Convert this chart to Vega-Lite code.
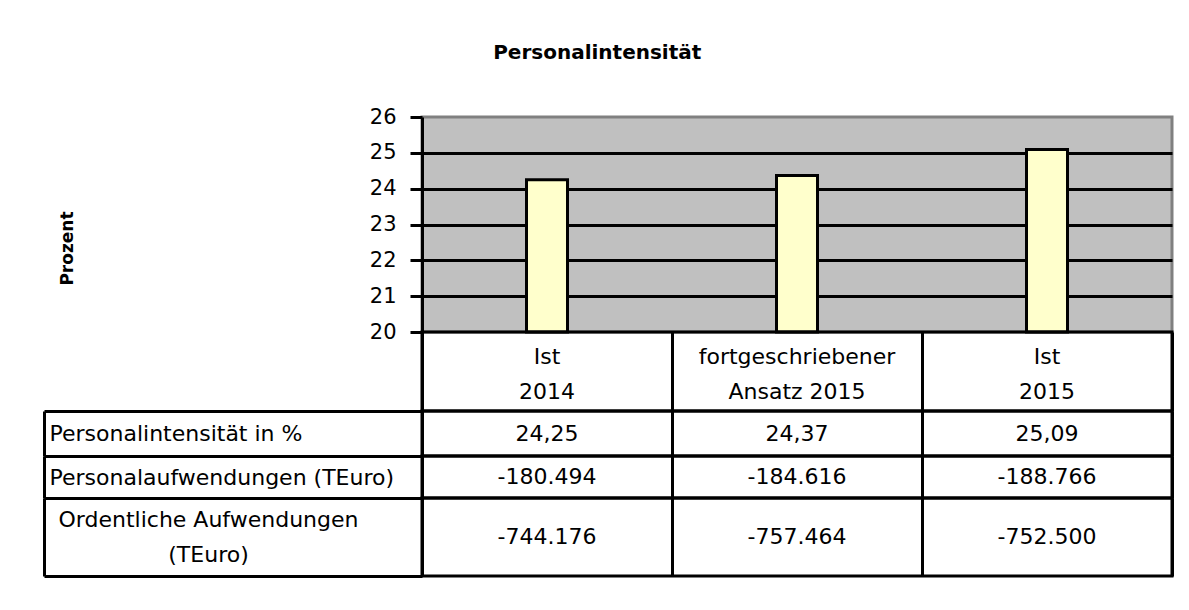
{
  "$schema": "https://vega.github.io/schema/vega-lite/v6.json",
  "background": "white",
  "padding": {"left": 41, "top": 42, "right": 5, "bottom": 5},
  "config": {
    "font": "DejaVu Sans",
    "locale": {"number": {"decimal": ",", "thousands": ".", "grouping": [3], "currency": ["", " €"], "minus": "-"}},
    "view": {"stroke": "black", "strokeWidth": 3},
    "axis": {"labelColor": "black", "titleColor": "black", "labelFont": "DejaVu Sans", "titleFont": "DejaVu Sans"}
  },
  "title": {"text": "Personalintensität", "fontSize": 20, "font": "DejaVu Sans", "fontWeight": "bold", "color": "black", "anchor": "middle", "offset": 42, "dx": -10},
  "data": {
    "values": [
      {"Kategorie": "Ist\n2014", "Personalintensität in %": 24.25, "Personalaufwendungen (TEuro)": -180494, "Ordentliche Aufwendungen (TEuro)": -744176},
      {"Kategorie": "fortgeschriebener\nAnsatz 2015", "Personalintensität in %": 24.37, "Personalaufwendungen (TEuro)": -184616, "Ordentliche Aufwendungen (TEuro)": -757464},
      {"Kategorie": "Ist\n2015", "Personalintensität in %": 25.09, "Personalaufwendungen (TEuro)": -188766, "Ordentliche Aufwendungen (TEuro)": -752500}
    ]
  },
  "spacing": 0,
  "bounds": "flush",
  "resolve": {"scale": {"x": "independent", "y": "independent"}},
  "vconcat": [
    {
      "width": 750,
      "height": 215,
      "view": {"fill": "#C0C0C0", "stroke": "#808080", "strokeWidth": 3},
      "mark": {"type": "bar", "fill": "#FFFFCC", "stroke": "black", "strokeWidth": 3, "width": {"band": 0.164}},
      "encoding": {
        "x": {
          "field": "Kategorie", "type": "nominal", "sort": null,
          "scale": {"type": "band", "paddingInner": 0, "paddingOuter": 0},
          "axis": null
        },
        "y": {
          "field": "Personalintensität in %", "type": "quantitative",
          "scale": {"domain": [20, 26], "nice": false, "zero": false},
          "axis": {
            "title": "Prozent", "values": [20, 21, 22, 23, 24, 25, 26],
            "grid": true, "gridWidth": 3,
            "gridColor": {"condition": {"test": "datum.value == 20 || datum.value == 26", "value": "transparent"}, "value": "black"},
            "domain": true, "domainColor": "black", "domainWidth": 3,
            "ticks": true, "tickSize": 12, "tickColor": "black", "tickWidth": 3,
            "labelFontSize": 21, "labelPadding": 14,
            "titleFontSize": 17, "titleFontWeight": "bold", "titleAngle": 270,
            "titleX": -355, "titleY": 131, "titleAlign": "center", "titleBaseline": "middle"
          }
        },
        "y2": {"datum": 20}
      }
    },
    {
      "width": 750,
      "height": 79,
      "mark": {"type": "text", "fontSize": 22, "color": "black", "baseline": "middle", "align": "center", "lineBreak": "\n", "lineHeight": 35, "dy": -15},
      "encoding": {
        "x": {
          "field": "Kategorie", "type": "nominal", "sort": null,
          "scale": {"type": "band", "paddingInner": 0, "paddingOuter": 0},
          "axis": {"title": null, "labels": false, "ticks": false, "domain": false, "grid": true, "tickBand": "extent", "gridColor": "black", "gridWidth": 3, "gridOpacity": 1}
        },
        "text": {"field": "Kategorie", "type": "nominal"}
      }
    },
    {
      "width": 750,
      "height": 45,
      "transform": [{"fold": ["Personalintensität in %"], "as": ["Zeile", "Wert"]}],
      "mark": {"type": "text", "fontSize": 22, "color": "black", "baseline": "middle", "align": "center"},
      "encoding": {
        "x": {
          "field": "Kategorie", "type": "nominal", "sort": null,
          "scale": {"type": "band", "paddingInner": 0, "paddingOuter": 0},
          "axis": {"title": null, "labels": false, "ticks": false, "domain": false, "grid": true, "tickBand": "extent", "gridColor": "black", "gridWidth": 3, "gridOpacity": 1}
        },
        "y": {
          "field": "Zeile", "type": "nominal",
          "scale": {"type": "band", "paddingInner": 0, "paddingOuter": 0},
          "axis": {
            "title": null, "offset": 378, "grid": false,
            "domain": true, "domainColor": "black", "domainWidth": 3,
            "ticks": true, "tickBand": "extent", "tickSize": -378, "tickColor": "black", "tickWidth": 3,
            "labelAlign": "left", "labelBaseline": "middle", "labelPadding": 373, "labelFontSize": 22, "labelLimit": 0
          }
        },
        "text": {"field": "Wert", "type": "quantitative", "format": ",.2f"}
      }
    },
    {
      "width": 750,
      "height": 42,
      "transform": [{"fold": ["Personalaufwendungen (TEuro)"], "as": ["Zeile", "Wert"]}],
      "mark": {"type": "text", "fontSize": 22, "color": "black", "baseline": "middle", "align": "center"},
      "encoding": {
        "x": {
          "field": "Kategorie", "type": "nominal", "sort": null,
          "scale": {"type": "band", "paddingInner": 0, "paddingOuter": 0},
          "axis": {"title": null, "labels": false, "ticks": false, "domain": false, "grid": true, "tickBand": "extent", "gridColor": "black", "gridWidth": 3, "gridOpacity": 1}
        },
        "y": {
          "field": "Zeile", "type": "nominal",
          "scale": {"type": "band", "paddingInner": 0, "paddingOuter": 0},
          "axis": {
            "title": null, "offset": 378, "grid": false,
            "domain": true, "domainColor": "black", "domainWidth": 3,
            "ticks": true, "tickBand": "extent", "tickSize": -378, "tickColor": "black", "tickWidth": 3,
            "labelAlign": "left", "labelBaseline": "middle", "labelPadding": 373, "labelFontSize": 22, "labelLimit": 0
          }
        },
        "text": {"field": "Wert", "type": "quantitative", "format": ",.0f"}
      }
    },
    {
      "width": 750,
      "height": 78,
      "transform": [{"fold": ["Ordentliche Aufwendungen (TEuro)"], "as": ["Zeile", "Wert"]}],
      "mark": {"type": "text", "fontSize": 22, "color": "black", "baseline": "middle", "align": "center"},
      "encoding": {
        "x": {
          "field": "Kategorie", "type": "nominal", "sort": null,
          "scale": {"type": "band", "paddingInner": 0, "paddingOuter": 0},
          "axis": {"title": null, "labels": false, "ticks": false, "domain": false, "grid": true, "tickBand": "extent", "gridColor": "black", "gridWidth": 3, "gridOpacity": 1}
        },
        "y": {
          "field": "Zeile", "type": "nominal",
          "scale": {"type": "band", "paddingInner": 0, "paddingOuter": 0},
          "axis": {
            "title": null, "offset": 378, "grid": false,
            "domain": true, "domainColor": "black", "domainWidth": 3,
            "ticks": true, "tickBand": "extent", "tickSize": -378, "tickColor": "black", "tickWidth": 3,
            "labelAlign": "center", "labelBaseline": "middle", "labelPadding": 214, "labelFontSize": 22, "labelLimit": 0, "labelLineHeight": 35, "labelOffset": -17.5,
            "labelExpr": "[slice(datum.label, 0, indexof(datum.label, ' (')), slice(datum.label, indexof(datum.label, ' (') + 1)]"
          }
        },
        "text": {"field": "Wert", "type": "quantitative", "format": ",.0f"}
      }
    }
  ]
}
